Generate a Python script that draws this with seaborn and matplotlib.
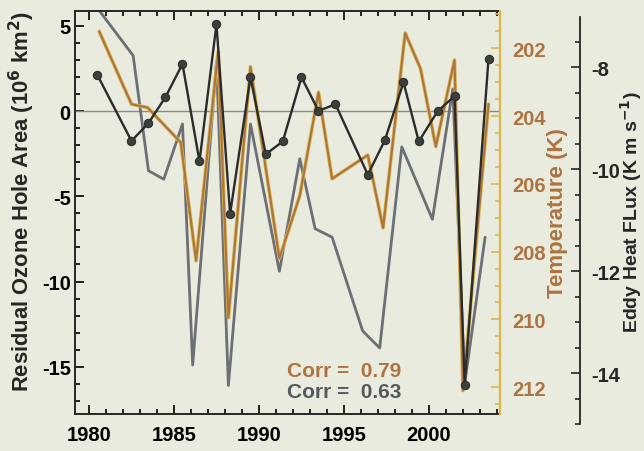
import numpy as np
import pandas as pd
import seaborn as sns
from matplotlib import pyplot as plt
from matplotlib.ticker import MultipleLocator

# valores

# area residual del agujero de ozono (linea gris)
ozono_anio = [1980.6, 1982.6, 1983.5, 1984.4, 1985.5, 1986.1, 1987.5, 1988.2, 1989.5, 1991.2,
              1992.4, 1993.3, 1994.3, 1996.1, 1997.1, 1998.4, 2000.2, 2001.4, 2002.1, 2003.3]
ozono_area = [5.9, 3.25, -3.5, -4.0, -0.76, -14.9, 2.9, -16.1, -0.76, -9.4,
              -2.8, -6.9, -7.4, -12.9, -13.9, -2.1, -6.35, 1.3, -16.0, -7.4]

# temperatura (linea marron, eje invertido)
temp_anio = [1980.6, 1982.5, 1983.45, 1985.4, 1986.3, 1987.6, 1988.2, 1989.5, 1991.2, 1992.4,
             1993.5, 1994.3, 1996.4, 1997.3, 1998.6, 1999.5, 2000.4, 2001.5, 2002.0, 2003.5]
temp_k = [201.5, 203.65, 203.75, 204.78, 208.27, 202.1, 209.95, 202.55, 208.2, 206.35,
          203.3, 205.85, 205.15, 207.3, 201.55, 202.6, 204.9, 202.35, 212.1, 203.65]

# flujo de calor por remolinos (linea negra con puntos)
flujo_anio = [1980.5, 1982.5, 1983.5, 1984.5, 1985.5, 1986.5, 1987.5, 1988.3, 1989.5, 1990.4, 1991.4,
              1992.5, 1993.5, 1994.5, 1996.4, 1997.4, 1998.5, 1999.4, 2000.5, 2001.5, 2002.1, 2003.5]
flujo = [-8.16, -9.45, -9.10, -8.59, -7.94, -9.85, -7.16, -10.88, -8.20, -9.71, -9.46,
         -8.20, -8.86, -8.73, -10.11, -9.44, -8.30, -9.46, -8.87, -8.57, -14.23, -7.84]

corr_textos = ['Corr =  0.79', 'Corr =  0.63']

papel = '#e8ebdd'
gris = '#6c6f74'
marron = '#ad7340'
dorado = '#d9b84a'
negro = '#2a2b2a'

sns.set_style('ticks')
plt.rcParams['font.family'] = ['Liberation Sans', 'DejaVu Sans']
plt.rcParams['font.weight'] = 'bold'
plt.rcParams['axes.labelweight'] = 'bold'
plt.rcParams['axes.unicode_minus'] = False

fig = plt.figure(figsize=(6.44, 4.52), dpi=100)
fig.patch.set_facecolor(papel)

ax = fig.add_axes([0.1165, 0.0819, 0.660, 0.8916])
ax.set_facecolor(papel)
ax2 = ax.twinx()
ax3 = fig.add_axes([0.1165, 0.0597, 0.660, 0.9004], sharex=ax)
ax3.patch.set_visible(False)

ax.axhline(0, color='#8a8a8a', lw=1.0, zorder=1)

sns.lineplot(x=ozono_anio, y=ozono_area, ax=ax, color=gris, lw=2.0, sort=False)
sns.lineplot(x=temp_anio, y=temp_k, ax=ax2, color=dorado, lw=2.6, sort=False)
sns.lineplot(x=temp_anio, y=temp_k, ax=ax2, color=marron, lw=1.5, sort=False)
sns.lineplot(x=flujo_anio, y=flujo, ax=ax3, color=negro, lw=1.7, sort=False,
             marker='o', markersize=6, markerfacecolor='#3b403c', markeredgecolor=negro)

# eje principal
ax.set_xlim(1979.18, 2004.18)
ax.set_ylim(-17.77, 5.87)
ax.xaxis.set_major_locator(MultipleLocator(5))
ax.xaxis.set_minor_locator(MultipleLocator(1))
ax.yaxis.set_major_locator(MultipleLocator(5))
ax.yaxis.set_minor_locator(MultipleLocator(1))
ax.tick_params(which='both', direction='in', top=True, right=False, width=1.2,
               labelsize=14.5, colors='black')
ax.tick_params(which='major', length=6.5, pad=8)
ax.tick_params(which='minor', length=3.8)
ax.tick_params(axis='y', pad=3)
for s in ax.spines.values():
    s.set_linewidth(1.4)
ax.spines['right'].set_visible(False)
ax.set_ylabel('Residual Ozone Hole Area (10$^6$ km$^2$)', fontsize=15.8)
ax.yaxis.set_label_coords(-0.089, 0.53)

# temperatura
ax2.set_ylim(212.79, 200.90)
ax2.yaxis.set_major_locator(MultipleLocator(2))
ax2.yaxis.set_minor_locator(MultipleLocator(0.5))
ax2.tick_params(which='both', direction='in', width=1.2, color=dorado,
                labelcolor=marron, labelsize=14.5, pad=9)
ax2.tick_params(which='major', length=6.5)
ax2.tick_params(which='minor', length=3.8)
for k in ['top', 'left', 'bottom']:
    ax2.spines[k].set_visible(False)
ax2.spines['right'].set_color(dorado)
ax2.spines['right'].set_linewidth(1.6)
ax2.set_ylabel('Temperature (K)', color=marron, fontsize=16)
ax2.yaxis.set_label_coords(1.111, 0.5)

# flujo de calor
ax3.set_ylim(-15, -7.02)
ax3.yaxis.set_label_position('right')
ax3.yaxis.tick_right()
ax3.yaxis.set_major_locator(MultipleLocator(2))
ax3.yaxis.set_minor_locator(MultipleLocator(0.5))
for k in ['top', 'left', 'bottom']:
    ax3.spines[k].set_visible(False)
ax3.spines['right'].set_position(('axes', 1.188))
ax3.spines['right'].set_linewidth(1.3)
ax3.tick_params(axis='x', which='both', bottom=False, top=False, labelbottom=False)
ax3.tick_params(axis='y', which='both', direction='in', width=1.2, labelsize=14.5, pad=8)
ax3.tick_params(axis='y', which='major', length=6.5)
ax3.tick_params(axis='y', which='minor', length=3.8)
ax3.set_ylabel('Eddy Heat FLux (K m s$^{-1}$)', fontsize=14)
ax3.yaxis.set_label_coords(1.278, 0.523)

fig.text(0.4457, 0.179, corr_textos[0], color=marron, fontsize=15, va='center')
fig.text(0.4457, 0.131, corr_textos[1], color='#55585d', fontsize=15, va='center')

plt.savefig('out.png', dpi=100, facecolor=papel)
plt.close()
